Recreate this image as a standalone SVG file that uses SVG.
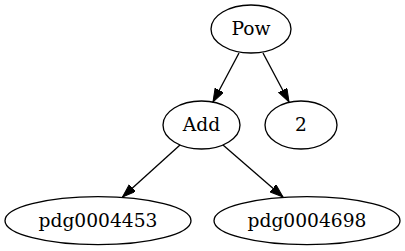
<svg xmlns="http://www.w3.org/2000/svg" width="405" height="251" viewBox="0 0 405 251">
<style>
.n ellipse{fill:none;stroke:#000;stroke-width:1.33}
.n text{font-family:"DejaVu Serif","Liberation Serif",serif;font-size:18.67px;text-anchor:middle;fill:#000}
#edges line{stroke:#000;stroke-width:1.33;marker-end:url(#arr)}
</style>
<defs>
<marker id="arr" markerUnits="userSpaceOnUse" markerWidth="14" markerHeight="10" refX="13.3" refY="4.67" orient="auto" viewBox="0 0 14 10">
<path d="M0,0 L13.3,4.67 L0,9.33 Z" fill="#000" stroke="#000" stroke-width="1"/>
</marker>
</defs>
<rect width="405" height="251" fill="#fff"/>
<g id="edges">
<line x1="239" y1="53" x2="213" y2="102"/>
<line x1="263" y1="53" x2="289" y2="102"/>
<line x1="180" y1="145" x2="122.5" y2="197"/>
<line x1="223" y1="145" x2="283" y2="197"/>
</g>
<g id="pow" class="n"><ellipse cx="251" cy="29" rx="40" ry="24"/><text x="251" y="35">Pow</text></g>
<g id="add" class="n"><ellipse cx="201.5" cy="125" rx="38.5" ry="24"/><text x="201.5" y="131">Add</text></g>
<g id="two" class="n"><ellipse cx="301" cy="125" rx="36" ry="24"/><text x="301" y="131">2</text></g>
<g id="pdg0004453" class="n"><ellipse cx="98" cy="220.7" rx="93" ry="24"/><text x="98" y="226.7">pdg0004453</text></g>
<g id="pdg0004698" class="n"><ellipse cx="307" cy="220.7" rx="93" ry="24"/><text x="307" y="226.7">pdg0004698</text></g>
</svg>
